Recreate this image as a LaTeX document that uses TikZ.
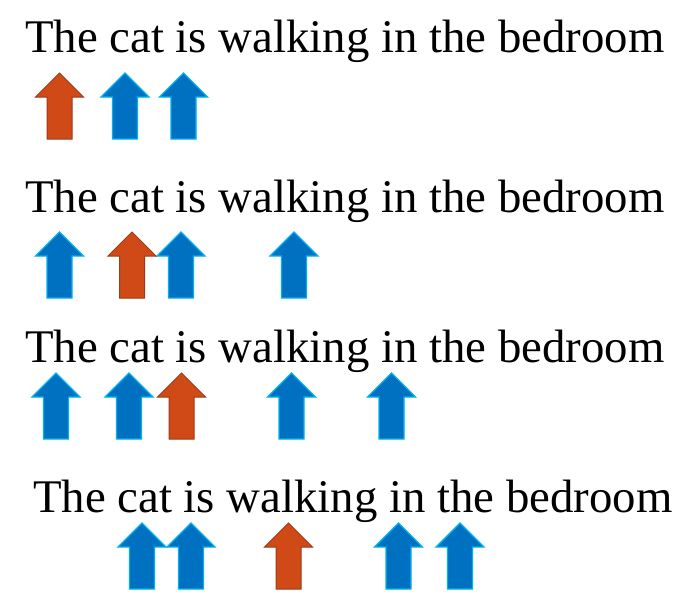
\documentclass[tikz,border=0pt]{standalone}
\usepackage{fontspec}
\setmainfont{Liberation Serif}
\usepackage{tikz}

\definecolor{arrblue}{HTML}{0070C0}
\definecolor{arrblueline}{HTML}{00B0F0}
\definecolor{arrred}{HTML}{D04A18}
\definecolor{arrredline}{HTML}{9E3A14}

\tikzset{
    upshape/.pic={
        \path[pic actions] (0,0) -- (24,24) -- (12.5,24) -- (12.5,66)
            -- (-12.5,66) -- (-12.5,24) -- (-24,24) -- cycle;
    },
    bluearr/.style={fill=arrblue, draw=arrblueline, line width=1.4pt},
    redarr/.style={fill=arrred, draw=arrredline, line width=1pt},
    sentence/.style={anchor=base west, inner sep=0pt, font=\fontsize{46.8}{56}\selectfont}
}

\begin{document}
\begin{tikzpicture}[x=1pt,y=-1pt]
                    \useasboundingbox (0,0) rectangle (696,613);

                    \node[sentence] (row1) at (25,52) {The cat is walking in the bedroom};
                    \node[sentence] (row2) at (25,212) {The cat is walking in the bedroom};
                    \node[sentence] (row3) at (25,362) {The cat is walking in the bedroom};
                    \node[sentence] (row4) at (33,512) {The cat is walking in the bedroom};

                    % first row
                    \pic[redarr] at (59.5,73) {upshape};
                    \foreach \x in {125,183.5}
                        \pic[bluearr] at (\x,73) {upshape};

                    % second row
                    \foreach \x in {59.5,181,294}
                        \pic[bluearr] at (\x,232) {upshape};
                    \pic[redarr] at (132,232) {upshape};

                    % third row
                    \foreach \x in {56,129,291.5,391.5}
                        \pic[bluearr] at (\x,373) {upshape};
                    \pic[redarr] at (181.5,373) {upshape};

                    % fourth row
                    \foreach \x in {142,191,398.5,460}
                        \pic[bluearr] at (\x,523) {upshape};
                    \pic[redarr] at (288.5,523) {upshape};
                \end{tikzpicture}
\end{document}
